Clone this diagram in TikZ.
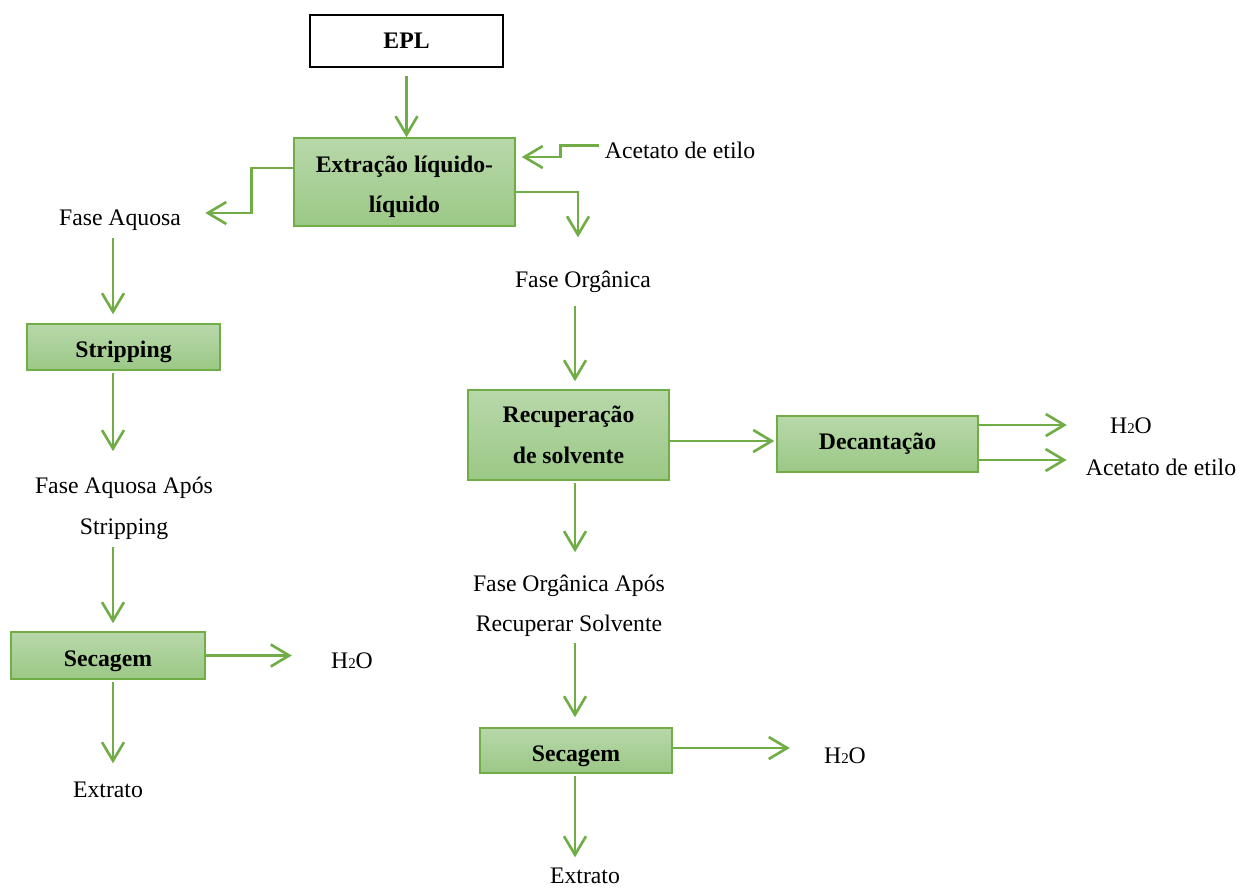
\documentclass[tikz,border=0pt]{standalone}
\usepackage{fontspec}
\setmainfont{Liberation Serif}
\usetikzlibrary{arrows.meta}
\definecolor{boxline}{HTML}{70AD47}
\definecolor{boxtop}{HTML}{B8D8AA}
\definecolor{boxbot}{HTML}{9BC886}
\definecolor{flowgreen}{HTML}{70AD47}
\newcommand{\lowstrut}{\rule{0pt}{15pt}}
\newcommand{\water}{H{\fontsize{8.5}{9}\selectfont 2}O}
\tikzset{
 stage/.style={draw=boxline, line width=0.9pt, top color=boxtop, bottom color=boxbot, font=\fontsize{13.5}{23}\selectfont\bfseries, align=center, inner sep=0pt},
 feed/.style={draw=black, line width=1.6pt, fill=white, font=\fontsize{13.5}{23}\selectfont\bfseries, inner sep=0pt},
 lbl/.style={font=\fontsize{13.5}{23}\selectfont, align=center, inner sep=0pt, yshift=-0.05cm},
 flow/.style={draw=flowgreen, line width=1.5pt, -{Straight Barb[length=10.5pt,width=12.5pt]}}
}
\begin{document}
\begin{tikzpicture}[x=0.02cm, y=-0.02cm]
\useasboundingbox (0,0) rectangle (1240,887);
\coordinate (colL) at (113,0);
\coordinate (colR) at (575,0);
\node[feed, minimum width=3.86cm, minimum height=1.04cm] (epl) at (406.5,41) {EPL};
\node[stage, minimum width=4.42cm, minimum height=1.76cm] (ext) at (404.5,182) {\lowstrut Extração líquido-\\líquido};
\node[lbl] (acet) at (680,148) {Acetato de etilo};
\node[lbl] (faq) at (120,218) {Fase Aquosa};
\node[lbl] (forg) at (583,279) {Fase Orgânica};
\node[stage, minimum width=3.86cm, minimum height=0.92cm] (strip) at (123.5,347) {\lowstrut Stripping};
\node[lbl] (faqs) at (124,506) {Fase Aquosa Após\\Stripping};
\node[stage, minimum width=3.88cm, minimum height=0.94cm] (secl) at (108,655.5) {\lowstrut Secagem};
\node[lbl] (h2ol) at (352,658) {\water};
\node[lbl] (extl) at (108,787) {Extrato};
\node[stage, minimum width=4.02cm, minimum height=1.8cm] (rec) at (568.5,435) {Recuperação\\de solvente};
\node[stage, minimum width=4.02cm, minimum height=1.12cm] (dec) at (877.5,444) {Decantação};
\node[lbl] (h2od) at (1131,423) {\water};
\node[lbl] (acetd) at (1161,465) {Acetato de etilo};
\node[lbl] (forgs) at (569,603) {Fase Orgânica Após\\Recuperar Solvente};
\node[stage, minimum width=3.84cm, minimum height=0.9cm] (secr) at (576,750.5) {\lowstrut Secagem};
\node[lbl] (h2or) at (845,753) {\water};
\node[lbl] (extr) at (585,873) {Extrato};

\draw[flow, shorten <=0.16cm] (epl.south) -- (epl.south |- ext.north);
\draw[flow, shorten <=0.12cm, shorten >=0.12cm] ([yshift=0.1cm]acet.west) -- ++(-44,0) |- ([yshift=0.5cm]ext.east);
\draw[flow, shorten >=0.48cm] ([yshift=0.28cm]ext.west) -- ++(-42,0) |- ([yshift=0.15cm]faq.east);
\draw[flow, shorten >=0.66cm] ([yshift=-0.2cm]ext.east) -| ([xshift=-0.1cm]forg.north);

\draw[flow, shorten <=0.14cm, shorten >=0.18cm] (faq.south -| colL) -- (strip.north -| colL);
\draw[flow, shorten <=0.04cm, shorten >=0.52cm] (strip.south -| colL) -- (faqs.north -| colL);
\draw[flow, shorten <=0.14cm, shorten >=0.16cm] (faqs.south -| colL) -- (secl.north -| colL);
\draw[flow, shorten <=0.04cm, shorten >=0.36cm] (secl.south -| colL) -- (extl.north -| colL);
\draw[flow, shorten >=0.78cm] (secl.east) -- (h2ol.west |- secl.east);

\draw[flow, shorten <=0.26cm, shorten >=0.16cm] (forg.south -| colR) -- (rec.north -| colR);
\draw[flow, shorten >=0.04cm] ([yshift=-0.12cm]rec.east) -- ([yshift=-0.12cm]rec.east -| dec.west);
\draw[flow, shorten >=0.86cm] ([yshift=0.38cm]dec.east) -- ([yshift=0.38cm]dec.east -| h2od.west);
\draw[flow, shorten >=0.38cm] ([yshift=-0.32cm]dec.east) -- ([yshift=-0.32cm]dec.east -| acetd.west);
\draw[flow, shorten <=0.04cm, shorten >=0.44cm] (rec.south -| colR) -- (forgs.north -| colR);
\draw[flow, shorten <=0.12cm, shorten >=0.2cm] (forgs.south -| colR) -- (secr.north -| colR);
\draw[flow, shorten >=0.68cm] ([yshift=0.05cm]secr.east) -- ([yshift=0.05cm]secr.east -| h2or.west);
\draw[flow, shorten <=0.04cm, shorten >=0.2cm] (secr.south -| colR) -- (extr.north -| colR);
\end{tikzpicture}
\end{document}
